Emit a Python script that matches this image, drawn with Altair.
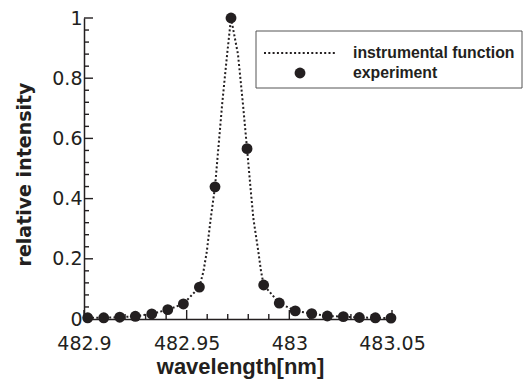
import altair as alt
import pandas as pd

# experiment points
exp_wl = [482.9018, 482.9096, 482.9174, 482.9250, 482.9330, 482.9408, 482.9484,
          482.9562, 482.9638, 482.9716, 482.9794, 482.9875, 482.9951, 483.0029,
          483.0109, 483.0185, 483.0263, 483.0341, 483.0419, 483.0495]
exp_int = [0.004, 0.004, 0.006, 0.009, 0.017, 0.031, 0.050, 0.106, 0.439, 1.0,
           0.566, 0.113, 0.053, 0.027, 0.018, 0.010, 0.008, 0.005, 0.004, 0.003]

# instrumental function
fit_wl = [482.9018, 482.9096, 482.9174, 482.9250, 482.9330, 482.9408, 482.9484,
          482.9562, 482.9582, 482.9598, 482.9617, 482.9638, 482.9673, 482.9697,
          482.9716, 482.9750, 482.9774, 482.9794, 482.9813, 482.9825, 482.9849,
          482.9862, 482.9875, 482.9951, 483.0029, 483.0109, 483.0185, 483.0263,
          483.0341, 483.0419, 483.0495]
fit_int = [0.004, 0.004, 0.006, 0.009, 0.017, 0.031, 0.050, 0.106, 0.159, 0.224,
           0.333, 0.439, 0.715, 0.879, 1.0, 0.879, 0.715, 0.566, 0.420, 0.333,
           0.224, 0.159, 0.113, 0.053, 0.027, 0.018, 0.010, 0.008, 0.005, 0.004,
           0.003]

legend_labels = ["instrumental function", "experiment"]
x_major = [482.9, 482.95, 483.0, 483.05]
x_minor = [482.91, 482.92, 482.93, 482.94, 482.96, 482.97, 482.98, 482.99,
           483.01, 483.02, 483.03, 483.04]
y_major = [0, 0.2, 0.4, 0.6, 0.8, 1.0]
y_minor = [0.04, 0.08, 0.12, 0.16, 0.24, 0.28, 0.32, 0.36, 0.44, 0.48, 0.52,
           0.56, 0.64, 0.68, 0.72, 0.76, 0.84, 0.88, 0.92, 0.96]

fit_df = pd.DataFrame({"wl": fit_wl, "inten": fit_int})
exp_df = pd.DataFrame({"wl": exp_wl, "inten": exp_int})

INK = "#231f20"
TICK = INK
W, H = 308, 301
xs = alt.Scale(domain=[482.9, 483.05], nice=False, zero=False)
ys = alt.Scale(domain=[0, 1], nice=False)

line = alt.Chart(fit_df).mark_line(
    color=INK, strokeWidth=2, strokeDash=[2, 2.3]
).encode(
    x=alt.X("wl:Q", scale=xs, axis=alt.Axis(
        values=x_major, format="~g", ticks=False, tickSize=0, grid=False,
        domainColor=INK, domainWidth=1.5,
        labelFont="DejaVu Sans", labelFontSize=19, labelColor=INK,
        labelBaseline="alphabetic", labelPadding=30, labelFlush=False,
        title="wavelength[nm]", titleFont="Liberation Sans", titleFontSize=22,
        titleFontWeight="bold", titleColor=INK, titleBaseline="alphabetic",
        titleX=156, titleY=54, titleAlign="center")),
    y=alt.Y("inten:Q", scale=ys, axis=alt.Axis(
        values=y_major, format="~g", ticks=False, tickSize=0, grid=False,
        domainColor=INK, domainWidth=1.5,
        labelFont="DejaVu Sans", labelFontSize=19, labelColor=INK,
        labelPadding=2, labelFlush=False,
        title="relative intensity", titleFont="DejaVu Sans", titleFontSize=19,
        titleFontWeight="bold", titleColor=INK, titleAngle=270,
        titleBaseline="alphabetic", titleAlign="center", titleX=-54, titleY=156)),
)

points = alt.Chart(exp_df).mark_point(
    filled=True, color=INK, opacity=1, size=118
).encode(
    x=alt.X("wl:Q", scale=xs),
    y=alt.Y("inten:Q", scale=ys),
)

# inward tick marks, placed through the scales
def x_ticks(vals, length):
    return alt.Chart(pd.DataFrame({"wl": vals})).mark_rule(
        color=TICK, strokeWidth=1.4
    ).encode(x=alt.X("wl:Q", scale=xs), y=alt.value(H), y2=alt.value(H - length))

def y_ticks(vals, length):
    return alt.Chart(pd.DataFrame({"inten": vals})).mark_rule(
        color=TICK, strokeWidth=1.4
    ).encode(y=alt.Y("inten:Q", scale=ys), x=alt.value(0), x2=alt.value(length))

# legend box (fixed position in the upper right of the plot)
one = pd.DataFrame({"k": [0]})
LX, LY, LX2, LY2 = 172, 13, 438, 70
leg_box = alt.Chart(one).mark_rect(
    fill="white", stroke="#555555", strokeWidth=1
).encode(x=alt.value(LX), x2=alt.value(LX2), y=alt.value(LY), y2=alt.value(LY2))
leg_line = alt.Chart(one).mark_rule(
    color=INK, strokeWidth=2, strokeDash=[2, 2.3]
).encode(x=alt.value(180), x2=alt.value(253), y=alt.value(35))
leg_dot = alt.Chart(one).mark_point(
    filled=True, color=INK, opacity=1, size=118
).encode(x=alt.value(216), y=alt.value(55))
leg_text1 = alt.Chart(one).mark_text(
    text=legend_labels[0], align="left", baseline="middle",
    font="Liberation Sans", fontSize=15.8, fontWeight="bold", color=INK
).encode(x=alt.value(269), y=alt.value(35))
leg_text2 = alt.Chart(one).mark_text(
    text=legend_labels[1], align="left", baseline="middle",
    font="Liberation Sans", fontSize=15.8, fontWeight="bold", color=INK
).encode(x=alt.value(269), y=alt.value(55))

chart = alt.layer(
    line,
    points,
    x_ticks(x_major, 9), x_ticks(x_minor, 5),
    y_ticks(y_major, 9), y_ticks(y_minor, 5),
    leg_box, leg_line, leg_dot, leg_text1, leg_text2,
).properties(
    width=W, height=H,
    autosize=alt.AutoSizeParams(type="none"),
    padding={"left": 76, "top": 10, "right": 131, "bottom": 66},
).configure_view(stroke=None)

chart.save("out.html", embed_options={"renderer": "svg", "actions": False})
